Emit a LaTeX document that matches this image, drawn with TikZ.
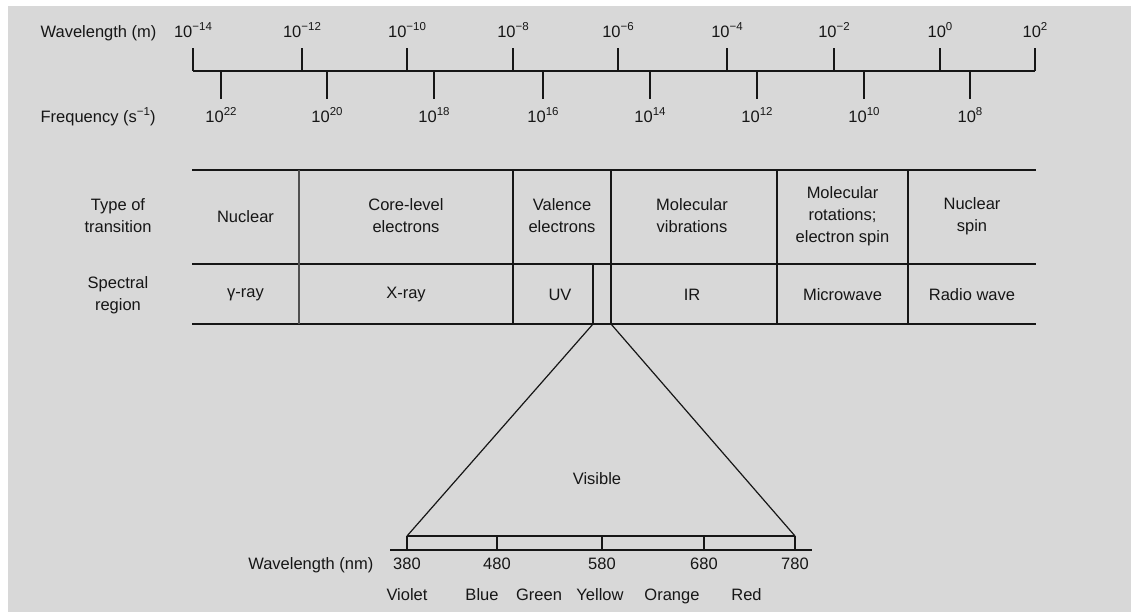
\documentclass[tikz,border=0pt]{standalone}
\usepackage{fontspec}
\setmainfont{Liberation Sans}
\definecolor{bg}{RGB}{216,216,216}
\definecolor{ink}{RGB}{22,22,22}
\definecolor{sepgray}{RGB}{80,80,80}
\newcommand\spx[1]{\raisebox{0.48em}{\fontsize{11.5}{11.5}\selectfont #1}}
\begin{document}
\begin{tikzpicture}[x=1pt,y=-1pt,color=ink,line width=1.3pt,
  lbl/.style={inner sep=0pt,font=\fontsize{16.5}{22}\selectfont,anchor=base},
  cell/.style={inner sep=0pt,align=center,font=\fontsize{16.5}{22}\selectfont,anchor=center},
  axisline/.style={line width=1.6pt},
  rule/.style={line width=1.6pt},
  sepline/.style={line width=1.2pt},
  heavysep/.style={line width=1.8pt,draw=sepgray},
  tickline/.style={line width=1.3pt}]
\useasboundingbox (0,0) rectangle (1131,612);
\fill[white] (0,0) rectangle (1131,612);
\fill[bg] (8,6) rectangle (1131,612);

% ---------- top axis ----------
\node[lbl,anchor=base west] (wlab) at (40,38) {Wavelength (m)};
\node[lbl,anchor=base west] (flab) at (40,123) {Frequency (s\spx{−1})};
\coordinate (aL) at (193,71);
\coordinate (aR) at (1035,71);
\draw[axisline] (aL) -- (aR);
\foreach \x/\e [count=\i] in {193/−14,302/−12,407/−10,513/−8,618/−6,727/−4,834/−2,940/0,1035/2}{
  \coordinate (wb\i) at (\x,71);
  \coordinate (wt\i) at (\x,48);
  \draw[tickline] (wb\i) -- (wt\i);
  \node[lbl] (wl\i) at (\x,38) {10\spx{\e}};
}
\foreach \x/\e [count=\i] in {221/22,327/20,434/18,543/16,650/14,757/12,864/10,970/8}{
  \coordinate (ft\i) at (\x,71);
  \coordinate (fb\i) at (\x,99);
  \draw[tickline] (ft\i) -- (fb\i);
  \node[lbl] (fl\i) at (\x,123) {10\spx{\e}};
}

% ---------- table ----------
\coordinate (t0) at (192,170); \coordinate (t1) at (1036,170);
\coordinate (m0) at (192,264); \coordinate (m1) at (1036,264);
\coordinate (b0) at (192,324); \coordinate (b1) at (1036,324);
\draw[rule] (t0) -- (t1);
\draw[rule] (m0) -- (m1);
\draw[rule] (b0) -- (b1);
\coordinate (v1t) at (299,170); \coordinate (v1b) at (299,324);
\draw[heavysep] (v1t) -- (v1b);
\foreach \x [count=\i from 2] in {513,611,777,908}{
  \coordinate (v\i t) at (\x,170);
  \coordinate (v\i b) at (\x,324);
  \draw[sepline] (v\i t) -- (v\i b);
}
\coordinate (vist) at (593,264); \coordinate (visb) at (593,324);
\draw[sepline] (vist) -- (visb);

\node[cell] (rowA) at (118,216) {Type of\\transition};
\node[cell] (rowB) at (118,295) {Spectral\\region};

\node[cell] (c1) at (245.5,217) {Nuclear};
\node[cell] (c2) at (406,216) {Core-level\\electrons};
\node[cell] (c3) at (562,216) {Valence\\electrons};
\node[cell] (c4) at (692,216) {Molecular\\vibrations};
\node[cell] (c5) at (842.5,216) {Molecular\\rotations;\\electron spin};
\node[cell] (c6) at (972,216) {Nuclear\\spin};

\node[cell] (s1) at (245.5,295) {γ-ray};
\node[cell] (s2) at (406,295) {X-ray};
\node[cell] (s3) at (560,295) {UV};
\node[cell] (s4) at (692,295) {IR};
\node[cell] (s5) at (842.5,295) {Microwave};
\node[cell] (s6) at (972,295) {Radio wave};

% ---------- visible expansion ----------
\coordinate (vl) at (407,536);
\coordinate (vr) at (795,536);
\draw[sepline] (visb) -- (vl);
\draw[sepline] (v3b) -- (vr);
\node[cell] (vis) at (597,479) {Visible};

% ---------- nm scale ----------
\draw[sepline] (vl) -- (vr);
\coordinate (nL) at (390,550);
\coordinate (nR) at (812,550);
\draw[rule] (nL) -- (nR);
\foreach \x/\v [count=\i] in {407/380,497/480,602/580,704/680,795/780}{
  \coordinate (nt\i) at (\x,536);
  \coordinate (nb\i) at (\x,550);
  \draw[sepline] (nt\i) -- (nb\i);
  \node[lbl] (nl\i) at (\x,569) {\v};
}
\node[lbl,anchor=base east] (nmlab) at (374,569) {Wavelength (nm)};
\foreach \x/\c [count=\i] in {407/Violet,482/Blue,539/Green,600/Yellow,672/Orange,746.5/Red}{
  \node[lbl] (col\i) at (\x,600) {\c};
}
\end{tikzpicture}
\end{document}
